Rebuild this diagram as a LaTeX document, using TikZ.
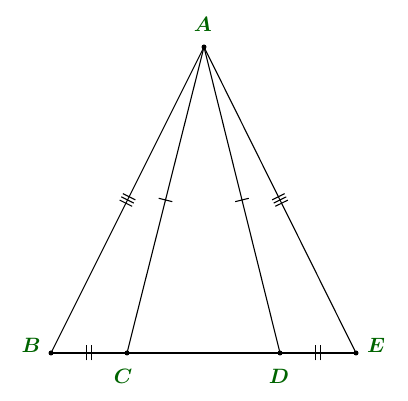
\documentclass[tikz,border=0pt]{standalone}
\usetikzlibrary{decorations.markings}
\definecolor{lblgreen}{RGB}{0,100,0}
\begin{document}
\begin{tikzpicture}[x=1pt,y=-1pt,line width=1.1pt,
  lbl/.style={text=lblgreen,font=\fontsize{21}{24}\selectfont\boldmath},
  dot/.style={circle,fill=black,inner sep=0pt,minimum size=5pt},
  tickone/.style={postaction={decorate,decoration={markings,mark=at position 0.5 with {\draw[line width=1.1pt] (0,-7pt)--(0,7pt);}}}},
  ticktwo/.style={postaction={decorate,decoration={markings,mark=at position 0.5 with {\draw[line width=1.1pt] (-2.4pt,-7.5pt)--(-2.4pt,7.5pt) (2.4pt,-7.5pt)--(2.4pt,7.5pt);}}}},
  tickthree/.style={postaction={decorate,decoration={markings,mark=at position 0.5 with {\draw[line width=1.1pt] (-3.6pt,-7pt)--(-3.6pt,7pt) (0,-7pt)--(0,7pt) (3.6pt,-7pt)--(3.6pt,7pt);}}}}]
\useasboundingbox (0,0) rectangle (408,401);
\node[dot] (A) at (204,47) {};
\node[dot] (B) at (51,353) {};
\node[dot] (C) at (127,353) {};
\node[dot] (D) at (280,353) {};
\node[dot] (E) at (356,353) {};
\draw[tickthree] (A.center) -- (B.center);
\draw[tickone] (A.center) -- (C.center);
\draw[tickone] (A.center) -- (D.center);
\draw[tickthree] (A.center) -- (E.center);
\draw[ticktwo] (B.center) -- (C.center);
\draw (C.center) -- (D.center);
\draw[ticktwo] (D.center) -- (E.center);
\node[lbl] (lA) at (203,24) {$A$};
\node[lbl] (lB) at (31,345) {$B$};
\node[lbl] (lC) at (123,376) {$C$};
\node[lbl] (lD) at (279,376) {$D$};
\node[lbl] (lE) at (376,345) {$E$};
\end{tikzpicture}
\end{document}
